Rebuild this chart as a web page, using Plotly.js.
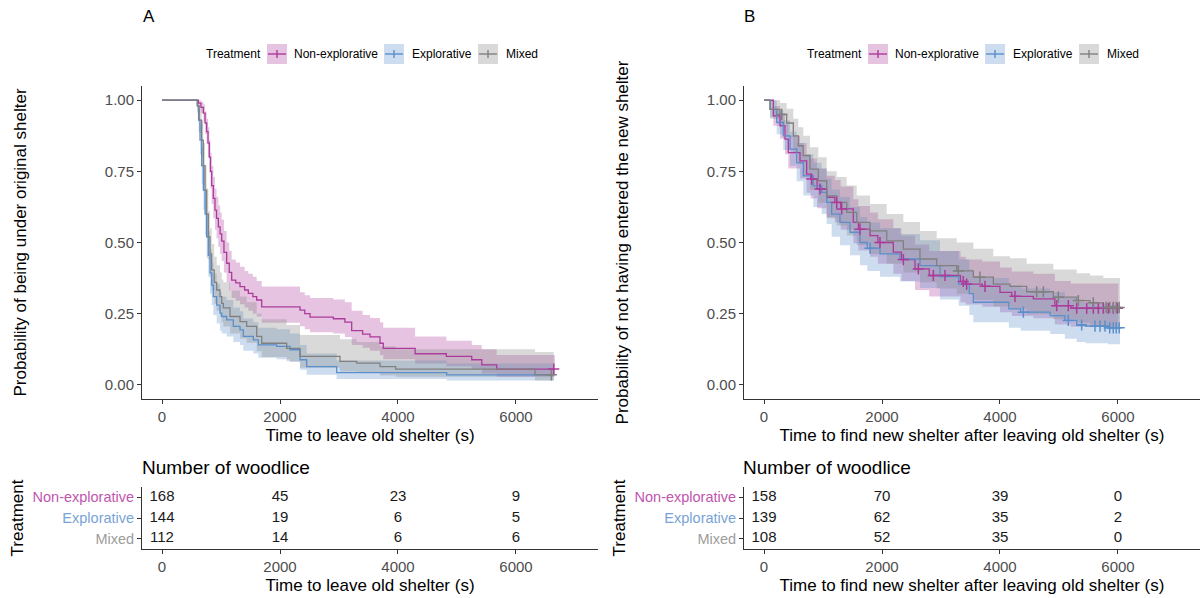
<!DOCTYPE html>
<html><head><meta charset="utf-8">
<script src="https://cdn.plot.ly/plotly-3.0.1.min.js"></script>
<style>html,body{margin:0;padding:0;background:#fff}#chart{width:1202px;height:598px}</style>
</head><body><div id="chart"></div>
<script>
// ---------- categories & colours ----------
const groups = ['Non-explorative', 'Explorative', 'Mixed'];
const groupColors = ['#AC3A9B', '#5A8FCB', '#808080'];
const tableLabelColors = ['#BF55AF', '#79A3D6', '#9C9C9C'];

// ---------- Panel A: time to leave old shelter ----------
const aNonT = [0,616,660,701,730,757,780,802,822,842,870,898,925,955,985,1012,1050,1096,1140,1181,1250,1322,1400,1463,1540,1605,1690,2339,2420,2509,2904,3100,3215,3400,3526,3695,3750,4290,4820,5250,5420,5673,6660];
const aNonS = [1,0.99,0.975,0.955,0.92,0.89,0.85,0.80,0.75,0.70,0.655,0.614,0.585,0.555,0.53,0.505,0.465,0.427,0.395,0.368,0.358,0.345,0.333,0.321,0.31,0.298,0.274,0.262,0.25,0.238,0.232,0.22,0.19,0.178,0.168,0.146,0.128,0.109,0.1,0.088,0.07,0.055,0.055];
const aNonU = [1,1,0.995,0.985,0.96,0.935,0.905,0.86,0.815,0.77,0.73,0.69,0.66,0.63,0.605,0.58,0.54,0.50,0.47,0.44,0.43,0.415,0.40,0.39,0.38,0.365,0.345,0.325,0.315,0.305,0.30,0.29,0.26,0.245,0.235,0.22,0.2,0.17,0.155,0.14,0.125,0.105,0.10];
const aNonL = [1,0.975,0.955,0.925,0.88,0.845,0.80,0.745,0.69,0.635,0.585,0.545,0.515,0.485,0.46,0.435,0.395,0.36,0.33,0.305,0.295,0.283,0.272,0.26,0.25,0.24,0.218,0.206,0.195,0.185,0.18,0.168,0.14,0.13,0.12,0.105,0.09,0.075,0.065,0.055,0.04,0.028,0.028];
const aNonCens = [6640];

const aExpT = [0,599,620,644,672,701,730,757,785,814,843,870,927,983,1012,1096,1209,1322,1378,1548,1633,1944,2170,2339,2452,2960,4825,6640];
const aExpS = [1,0.98,0.93,0.86,0.77,0.684,0.60,0.52,0.455,0.393,0.35,0.31,0.28,0.252,0.24,0.228,0.205,0.193,0.17,0.158,0.14,0.135,0.123,0.088,0.064,0.043,0.035,0.035];
const aExpU = [1,1,0.97,0.915,0.835,0.76,0.68,0.60,0.54,0.475,0.43,0.39,0.355,0.325,0.31,0.298,0.272,0.258,0.233,0.22,0.2,0.195,0.18,0.14,0.11,0.085,0.075,0.075];
const aExpL = [1,0.96,0.89,0.81,0.705,0.615,0.525,0.445,0.38,0.32,0.28,0.245,0.215,0.19,0.18,0.17,0.15,0.14,0.12,0.11,0.095,0.09,0.08,0.053,0.035,0.02,0.015,0.015];
const aExpCens = [];

const aMixT = [0,599,630,672,700,729,757,785,814,842,885,927,983,1012,1040,1153,1322,1435,1605,1690,2113,2339,3017,3300,3695,3960,6322,6640];
const aMixS = [1,0.98,0.93,0.86,0.77,0.684,0.60,0.52,0.46,0.404,0.36,0.333,0.31,0.286,0.27,0.24,0.222,0.205,0.17,0.146,0.128,0.1,0.082,0.076,0.064,0.055,0.035,0.035];
const aMixU = [1,1,0.975,0.925,0.85,0.77,0.69,0.61,0.55,0.495,0.45,0.42,0.395,0.37,0.36,0.33,0.31,0.29,0.25,0.23,0.21,0.175,0.16,0.15,0.135,0.125,0.115,0.115];
const aMixL = [1,0.955,0.885,0.80,0.70,0.605,0.52,0.44,0.38,0.33,0.285,0.26,0.24,0.22,0.205,0.18,0.163,0.148,0.118,0.098,0.083,0.06,0.047,0.042,0.033,0.028,0.015,0.015];
const aMixCens = [6600];

// ---------- Panel B: time to find new shelter ----------
const bNonT = [0,158,271,356,412,610,723,790,900,1062,1200,1300,1514,1600,1797,1930,2192,2330,2560,2800,3330,3420,3700,4000,4200,4565,4930,5200,6006];
const bNonS = [1,0.945,0.91,0.863,0.816,0.787,0.74,0.723,0.688,0.659,0.641,0.618,0.571,0.547,0.524,0.50,0.466,0.44,0.407,0.384,0.363,0.354,0.346,0.325,0.311,0.302,0.278,0.269,0.269];
const bNonU = [1,0.98,0.955,0.915,0.875,0.85,0.81,0.795,0.76,0.735,0.72,0.697,0.652,0.628,0.605,0.582,0.55,0.525,0.493,0.47,0.45,0.44,0.433,0.412,0.398,0.39,0.365,0.356,0.356];
const bNonL = [1,0.91,0.865,0.81,0.76,0.725,0.675,0.655,0.62,0.59,0.57,0.545,0.497,0.472,0.45,0.425,0.39,0.365,0.333,0.31,0.29,0.282,0.274,0.255,0.242,0.234,0.212,0.204,0.204];
const bNonCens = [808,949,1232,1317,1627,1966,2362,2616,2870,3068,3378,3435,3746,4254,4961,5158,5300,5470,5582,5667,5752,5836,5921,5990];

const bExpT = [0,102,215,327,441,554,666,836,978,1062,1147,1288,1458,1627,1750,1966,2305,2644,2983,3300,3480,3548,4150,4350,4850,5100,5300,5450,5830,6034];
const bExpS = [1,0.968,0.922,0.875,0.828,0.781,0.734,0.699,0.676,0.641,0.60,0.571,0.536,0.50,0.48,0.46,0.442,0.419,0.38,0.354,0.32,0.29,0.267,0.255,0.243,0.226,0.21,0.206,0.2,0.2];
const bExpU = [1,1,0.965,0.93,0.89,0.85,0.81,0.78,0.76,0.725,0.685,0.66,0.625,0.59,0.57,0.55,0.53,0.508,0.47,0.44,0.405,0.375,0.35,0.338,0.325,0.305,0.29,0.285,0.28,0.28];
const bExpL = [1,0.94,0.88,0.825,0.77,0.715,0.665,0.625,0.60,0.565,0.52,0.49,0.455,0.42,0.40,0.38,0.363,0.34,0.30,0.278,0.245,0.22,0.2,0.19,0.178,0.162,0.15,0.146,0.142,0.142];
const bExpCens = [1797,4396,5158,5384,5610,5695,5780,5860,5920,5970,6020];

const bMixT = [0,102,271,384,497,582,666,780,921,1062,1232,1402,1571,1797,2080,2362,2644,2927,3266,3548,3887,4170,4452,4904,5300,5526,5752,6034];
const bMixS = [1,0.968,0.95,0.92,0.875,0.84,0.805,0.758,0.717,0.664,0.641,0.606,0.571,0.541,0.506,0.477,0.442,0.419,0.40,0.378,0.354,0.346,0.327,0.308,0.296,0.288,0.272,0.267];
const bMixU = [1,1,0.99,0.97,0.935,0.905,0.875,0.835,0.80,0.75,0.73,0.70,0.665,0.635,0.60,0.572,0.54,0.515,0.50,0.478,0.452,0.445,0.425,0.405,0.392,0.384,0.375,0.372];
const bMixL = [1,0.935,0.91,0.87,0.815,0.775,0.735,0.685,0.64,0.585,0.56,0.525,0.49,0.46,0.425,0.395,0.36,0.338,0.32,0.298,0.275,0.267,0.248,0.23,0.218,0.21,0.195,0.19];
const bMixCens = [300,3294,3660,4622,4735,4989,5328,5582,5800,5860,5920,5970,6020];

// ---------- risk tables ----------
const riskTimes = [0, 2000, 4000, 6000];
const aRisk = [[168,45,23,9],[144,19,6,5],[112,14,6,6]];
const bRisk = [[158,70,39,0],[139,62,35,2],[108,52,35,0]];

// ---------- tick labels & texts ----------
const xTicks = [0, 2000, 4000, 6000];
const yTicks = [0, 0.25, 0.5, 0.75, 1];
const yTickText = ['0.00','0.25','0.50','0.75','1.00'];
const panelTitles = ['A', 'B'];
const mainYTitles = ['Probability of being under original shelter', 'Probability of not having entered the new shelter'];
const xTitles = ['Time to leave old shelter (s)', 'Time to find new shelter after leaving old shelter (s)'];
const tableTitle = 'Number of woodlice';
const legendTitle = 'Treatment';

// ---------- helpers ----------
const W = 1202, H = 598;
const FONT = 'Liberation Sans, Arial, sans-serif';
const px = v => v / W;
const py = v => 1 - v / H;
function rgba(hex, a){const n=parseInt(hex.slice(1),16);return `rgba(${n>>16},${(n>>8)&255},${n&255},${a})`;}
function stepAt(T, S, t){let v=S[0];for(let i=0;i<T.length;i++){if(T[i]<=t)v=S[i];else break;}return v;}

const panels = [
  {xa:'x', ya:'y', series:[[aNonT,aNonS,aNonU,aNonL,aNonCens],[aExpT,aExpS,aExpU,aExpL,aExpCens],[aMixT,aMixS,aMixU,aMixL,aMixCens]]},
  {xa:'x2', ya:'y2', series:[[bNonT,bNonS,bNonU,bNonL,bNonCens],[bExpT,bExpS,bExpU,bExpL,bExpCens],[bMixT,bMixS,bMixU,bMixL,bMixCens]]}
];

const traces = [];
panels.forEach(p => {
  p.series.forEach((s, g) => {
    traces.push({x:s[0], y:s[2], xaxis:p.xa, yaxis:p.ya, mode:'lines', line:{width:0, shape:'hv'}, hoverinfo:'skip', showlegend:false});
    traces.push({x:s[0], y:s[3], xaxis:p.xa, yaxis:p.ya, mode:'lines', line:{width:0, shape:'hv'}, fill:'tonexty', fillcolor:rgba(groupColors[g],0.3), hoverinfo:'skip', showlegend:false});
  });
  p.series.forEach((s, g) => {
    traces.push({x:s[0], y:s[1], xaxis:p.xa, yaxis:p.ya, mode:'lines', name:groups[g], line:{color:groupColors[g], width:1.3, shape:'hv'}, showlegend:false});
  });
  p.series.forEach((s, g) => {
    if (!s[4].length) return;
    traces.push({x:s[4], y:s[4].map(t => stepAt(s[0], s[1], t)), xaxis:p.xa, yaxis:p.ya, mode:'markers', name:groups[g]+' censored',
      marker:{symbol:'cross-thin', size:8, color:groupColors[g], line:{width:1.5, color:groupColors[g]}}, showlegend:false});
  });
});

// risk table text
[[aRisk,'x3','y3'],[bRisk,'x4','y4']].forEach(([risk, xa, ya]) => {
  risk.forEach((row, g) => {
    traces.push({x:riskTimes, y:riskTimes.map(() => groups[g]), text:row.map(String), mode:'text', xaxis:xa, yaxis:ya,
      textposition:'middle center', textfont:{family:FONT, size:15, color:'#1a1a1a'}, hoverinfo:'skip', showlegend:false});
  });
});

// ---------- axes ----------
const mainXDom = [[px(142), px(598)], [px(744), px(1200)]];
const mainYDom = [py(399), py(86)];
const tabYDom = [py(549), py(487)];
const xRange = [-339, 7390];
const tickFont = {family:FONT, size:15, color:'#4D4D4D'};
const titleFont = {family:FONT, size:17, color:'#000'};

function xAxis(dom, anchor, title){
  return {domain:dom, anchor:anchor, range:xRange, tickvals:xTicks, ticks:'outside', ticklen:4, tickcolor:'#333',
    showline:true, linecolor:'#333', linewidth:1, showgrid:false, zeroline:false, tickfont:tickFont,
    title:{text:title, font:titleFont, standoff:5}};
}
function yMain(dom, anchor, title){
  return {domain:dom, anchor:anchor, range:[-0.05,1.05], tickvals:yTicks, ticktext:yTickText, ticks:'outside', ticklen:4, tickcolor:'#333',
    showline:true, linecolor:'#333', linewidth:1, showgrid:false, zeroline:false, tickfont:tickFont,
    title:{text:title, font:titleFont, standoff:73}};
}
const catArray = ['Mixed','Explorative','Non-explorative'];
const catText = catArray.map(c => `<span style="color:${tableLabelColors[groups.indexOf(c)]}">${c}</span>`);
function yTab(anchor){
  return {domain:tabYDom, anchor:anchor, type:'category', categoryorder:'array', categoryarray:catArray, range:[-0.5,2.5],
    tickvals:catArray, ticktext:catText, ticks:'outside', ticklen:4, tickcolor:'#333', showline:true, linecolor:'#333', linewidth:1,
    showgrid:false, zeroline:false, tickfont:{family:FONT, size:14.5, color:'#4D4D4D'},
    title:{text:legendTitle, font:titleFont, standoff:4}};
}

// ---------- legend (drawn keys) and annotations ----------
const shapes = [];
const annotations = [];
const legendOffsets = [0, 601];
const keyX = [267, 384, 478];
const labelX = [292, 410, 504];
legendOffsets.forEach((off, k) => {
  annotations.push({xref:'paper', yref:'paper', x:px(204+off), y:py(54), xanchor:'left', yanchor:'middle', showarrow:false,
    text:legendTitle, font:{family:FONT, size:12, color:'#000'}});
  groups.forEach((g, i) => {
    const x0 = keyX[i] + off, x1 = x0 + 20;
    shapes.push({type:'rect', xref:'paper', yref:'paper', x0:px(x0), x1:px(x1), y0:py(64), y1:py(44), fillcolor:rgba(groupColors[i],0.3), line:{width:0}});
    shapes.push({type:'line', xref:'paper', yref:'paper', x0:px(x0+1), x1:px(x1-1), y0:py(54), y1:py(54), line:{color:groupColors[i], width:1.4}});
    shapes.push({type:'line', xref:'paper', yref:'paper', x0:px((x0+x1)/2), x1:px((x0+x1)/2), y0:py(50), y1:py(58), line:{color:groupColors[i], width:1.4}});
    annotations.push({xref:'paper', yref:'paper', x:px(labelX[i]+off), y:py(54), xanchor:'left', yanchor:'middle', showarrow:false,
      text:g, font:{family:FONT, size:12, color:'#000'}});
  });
  annotations.push({xref:'paper', yref:'paper', x:px(141+off), y:py(17), xanchor:'left', yanchor:'middle', showarrow:false,
    text:panelTitles[k], font:{family:FONT, size:17, color:'#000'}});
  annotations.push({xref:'paper', yref:'paper', x:px(140+off), y:py(467), xanchor:'left', yanchor:'middle', showarrow:false,
    text:tableTitle, font:{family:FONT, size:19, color:'#000'}});
});

const layout = {
  width:W, height:H, margin:{l:0, r:0, t:0, b:0}, paper_bgcolor:'#fff', plot_bgcolor:'#fff', showlegend:false,
  font:{family:FONT},
  xaxis: xAxis(mainXDom[0], 'y', xTitles[0]),
  yaxis: yMain(mainYDom, 'x', mainYTitles[0]),
  xaxis2: xAxis(mainXDom[1], 'y2', xTitles[1]),
  yaxis2: yMain(mainYDom, 'x2', mainYTitles[1]),
  xaxis3: xAxis(mainXDom[0], 'y3', xTitles[0]),
  yaxis3: yTab('x3'),
  xaxis4: xAxis(mainXDom[1], 'y4', xTitles[1]),
  yaxis4: yTab('x4'),
  shapes:shapes, annotations:annotations
};

Plotly.newPlot('chart', traces, layout, {displayModeBar:false, staticPlot:true});
</script></body></html>
